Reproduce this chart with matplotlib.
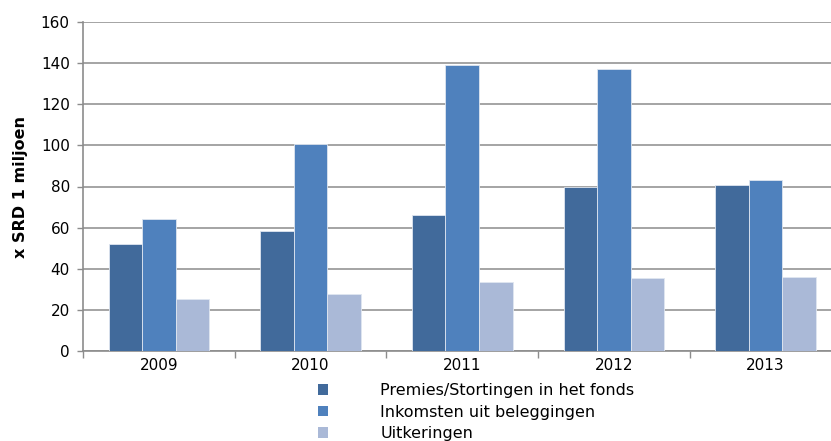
import numpy as np
import matplotlib.pyplot as plt
from matplotlib.patches import Patch

plt.rcParams['font.family'] = ['DejaVu Sans']

jaren = ['2009', '2010', '2011', '2012', '2013']
premies = [52.2, 58.4, 65.9, 80.0, 80.8]
inkomsten = [64.4, 100.6, 138.9, 136.9, 83.4]
uitkeringen = [25.4, 27.7, 33.7, 35.5, 36.1]

series = [
    ('Premies/Stortingen in het fonds', premies, '#416A9B'),
    ('Inkomsten uit beleggingen', inkomsten, '#4F81BD'),
    ('Uitkeringen', uitkeringen, '#AAB9D7'),
]

W, H = 831, 441
fig = plt.figure(figsize=(W / 100, H / 100), dpi=100)
# axes run slightly past the right edge, like the cropped original
ax = fig.add_axes([83 / W, 1 - 351 / H, 758.5 / W, 329 / H])

x = np.arange(len(jaren))
bw = 0.221
for i, (naam, vals, kleur) in enumerate(series):
    ax.bar(x + (i - 1) * bw, vals, bw, color=kleur, edgecolor='#dfe6f0',
           linewidth=0.6, zorder=3)

ax.set_xlim(-0.5, len(jaren) - 0.5)
ax.set_ylim(0, 160)
ax.set_yticks(np.arange(0, 161, 20))
ax.yaxis.grid(True, color='#8c8c8c', linewidth=1.1, zorder=0)

ax.set_xticks(x)
ax.set_xticklabels(jaren)
ax.set_xticks(np.arange(-0.5, len(jaren), 1), minor=True)
ax.tick_params(axis='x', which='major', length=0, pad=5, labelsize=11)
ax.tick_params(axis='x', which='minor', length=5, width=1, color='#8c8c8c')
ax.tick_params(axis='y', length=4.5, width=1, color='#8c8c8c', labelsize=11, pad=5)

for s in ['top', 'right']:
    ax.spines[s].set_visible(False)
for s in ['left', 'bottom']:
    ax.spines[s].set_color('#8c8c8c')
    ax.spines[s].set_linewidth(1.2)

ax.set_ylabel('x SRD 1 miljoen', fontsize=11.5, fontweight='bold', labelpad=9)

handles = [Patch(facecolor=k, edgecolor='none') for _, _, k in series]
fig.legend(handles, [n for n, _, _ in series], loc='upper left',
           bbox_to_anchor=(310 / W, 1 - 375 / H), frameon=False, fontsize=11.5,
           handlelength=0.65, handleheight=0.65, handletextpad=3.25,
           labelspacing=0.42, borderpad=0)

fig.savefig('out.png', dpi=100)
